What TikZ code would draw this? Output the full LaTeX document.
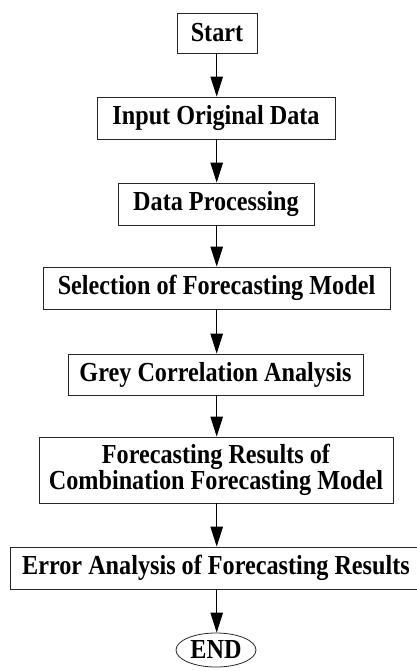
\documentclass[tikz,border=0pt]{standalone}
\usepackage{fontspec}
\setmainfont{Liberation Serif}[FakeStretch=0.88]
\usetikzlibrary{arrows.meta,shapes.geometric}

\tikzset{
  lbl/.style={font=\fontsize{27.5}{22}\selectfont\bfseries, text=black, align=center, inner sep=0pt},
  stepbox/.style={lbl, draw=black!85, line width=0.8pt, rectangle},
  termoval/.style={lbl, draw=black!85, line width=0.8pt, ellipse},
  flow/.style={line width=0.9pt, -{Triangle[length=20pt,width=12.5pt]}}
}

\begin{document}
\begin{tikzpicture}[x=1pt,y=-1pt]
  \useasboundingbox (0,0) rectangle (417,671);

  \node[stepbox, minimum width=80pt,  minimum height=40pt] (start)  at (217,33)    {Start};
  \node[stepbox, minimum width=238pt, minimum height=42pt] (input)  at (216,118)   {Input Original Data};
  \node[stepbox, minimum width=196pt, minimum height=42pt] (proc)   at (216,204)   {Data Processing};
  \node[stepbox, minimum width=347pt, minimum height=42pt] (select) at (216.5,288) {Selection of Forecasting Model};
  \node[stepbox, minimum width=295pt, minimum height=41pt] (grey)   at (215.5,374.5) {Grey Correlation Analysis};
  \node[stepbox, minimum width=354pt, minimum height=66pt] (comb)   at (216,470)   {Forecasting Results of\\Combination Forecasting Model};
  \node[stepbox, minimum width=412pt, minimum height=42pt] (error)  at (216,568)   {Error Analysis of Forecasting Results};
  \node[termoval, minimum width=80pt, minimum height=34pt] (end)    at (216,650)   {END};

  \draw[flow] (start.south -| 216.7,0) -- (input.north -| 216.7,0);
  \draw[flow] (input.south -| 216.7,0) -- (proc.north -| 216.7,0);
  \draw[flow] (proc.south -| 216.7,0) -- (select.north -| 216.7,0);
  \draw[flow] (select.south -| 216.7,0) -- (grey.north -| 216.7,0);
  \draw[flow] (grey.south -| 216.7,0) -- (comb.north -| 216.7,0);
  \draw[flow] (comb.south -| 216.7,0) -- (error.north -| 216.7,0);
  \draw[flow] (error.south -| 216.7,0) -- (end.north -| 216.7,0);
\end{tikzpicture}
\end{document}
